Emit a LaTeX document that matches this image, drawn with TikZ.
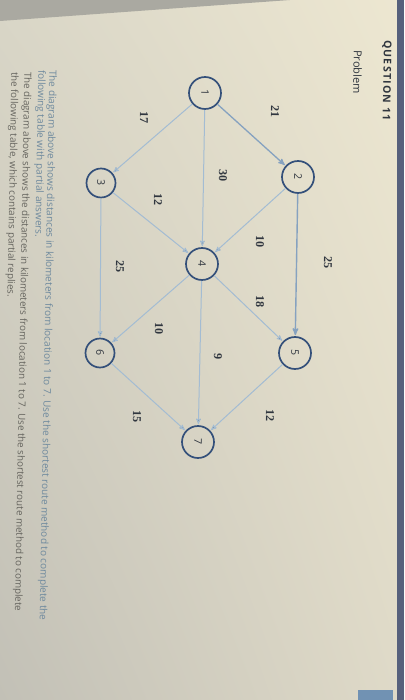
\documentclass[tikz,border=0pt]{standalone}
\usepackage{fontspec}
\setsansfont{Open Sans}
\newfontfamily\numfont{Liberation Serif}
\newfontfamily\headfont[LetterSpace=12]{Open Sans}
\usetikzlibrary{arrows,shadings}

\definecolor{ring}{HTML}{34507A}
\definecolor{wire}{HTML}{A3BCD3}
\definecolor{wiredark}{HTML}{86A2C0}
\definecolor{ink}{HTML}{30363F}
\definecolor{bluetext}{HTML}{6F8A9E}
\definecolor{greytext}{HTML}{66655F}
\definecolor{bezel}{HTML}{56607C}
\definecolor{topband}{HTML}{AAA9A1}
\definecolor{tab}{HTML}{7192B3}
\definecolor{paperUL}{HTML}{D9D6C7}
\definecolor{paperUR}{HTML}{EDE7D1}
\definecolor{paperLL}{HTML}{C2C0B6}
\definecolor{paperLR}{HTML}{DFDAC8}

\tikzset{
  loc/.style={circle, draw=ring, line width=1.7pt, minimum size=32pt, inner sep=0pt,
    font=\sffamily\fontsize{10.5}{10.5}\selectfont, text=ink, rotate=-91},
  dist/.style={font=\numfont\bfseries\fontsize{12}{12}\selectfont, text=ink, rotate=-91},
  road/.style={draw=wire, line width=1pt},
  textline/.style={anchor=west, inner sep=0pt, rotate=-91,
    font=\sffamily\fontsize{10}{10}\selectfont},
}

\begin{document}
\begin{tikzpicture}[x=1pt,y=-1pt,>=stealth',shorten >=1pt]
  \useasboundingbox (0,0) rectangle (404,700);
  % photographed screen
  \shade[upper left=paperUL, upper right=paperUR, lower left=paperLL, lower right=paperLR]
    (0,0) rectangle (404,700);
  \fill[topband] (0,0) -- (290,0) -- (0,21) -- cycle;
  \fill[bezel] (397,0) rectangle (404,700);
  \fill[tab] (358,690) rectangle (393,700);

  \node[anchor=west, inner sep=0pt, rotate=-91, text=ink,
        font=\headfont\bfseries\fontsize{10.5}{11}\selectfont] (title) at (387,40) {QUESTION 11};
  \node[anchor=west, inner sep=0pt, rotate=-91, text=ink,
        font=\sffamily\fontsize{11}{11}\selectfont] (prob) at (358,50) {Problem};

  \node[loc]                    (n1) at (205,93)  {1};
  \node[loc]                    (n2) at (298,177) {2};
  \node[loc, minimum size=29pt] (n3) at (101,183) {3};
  \node[loc]                    (n4) at (202,264) {4};
  \node[loc]                    (n5) at (295,353) {5};
  \node[loc, minimum size=29pt] (n6) at (100,353) {6};
  \node[loc]                    (n7) at (198,442) {7};

  \path[->, road] (n1) edge [draw=wiredark, line width=1.3pt] (n2)
                       edge (n3)
                       edge (n4);
  \path[->, road] (n2) edge (n4)
                       edge [draw=wiredark, line width=1.4pt] (n5);
  \path[->, road] (n3) edge (n4)
                       edge (n6);
  \path[->, road] (n4) edge (n5)
                       edge (n6)
                       edge (n7);
  \path[->, road] (n5) edge (n7);
  \path[->, road] (n6) edge (n7);

  \node[dist] (d12) at (275,112) {21};
  \node[dist] (d13) at (144,118) {17};
  \node[dist] (d14) at (223,176) {30};
  \node[dist] (d24) at (260,242) {10};
  \node[dist] (d25) at (328,263) {25};
  \node[dist] (d34) at (158,200) {12};
  \node[dist] (d36) at (120,267) {25};
  \node[dist] (d45) at (260,302) {18};
  \node[dist] (d46) at (159,329) {10};
  \node[dist] (d47) at (218,357) {9};
  \node[dist] (d57) at (270,416) {12};
  \node[dist] (d67) at (137,417) {15};

  \node[textline, text=bluetext] (p1) at (52,70)
    {The diagram above shows distances in kilometers from location 1 to 7.  Use the shortest route method to complete the};
  \node[textline, text=bluetext] (p2) at (41,70) {following table with partial answers.};
  \node[textline, text=greytext, font=\sffamily\fontsize{9.8}{10}\selectfont] (p3) at (27,72)
    {The diagram above shows the distances in kilometers from location 1 to 7. Use the shortest route method to complete};
  \node[textline, text=greytext, font=\sffamily\fontsize{9.8}{10}\selectfont] (p4) at (14,72)
    {the following table, which contains partial replies.};
\end{tikzpicture}
\end{document}
